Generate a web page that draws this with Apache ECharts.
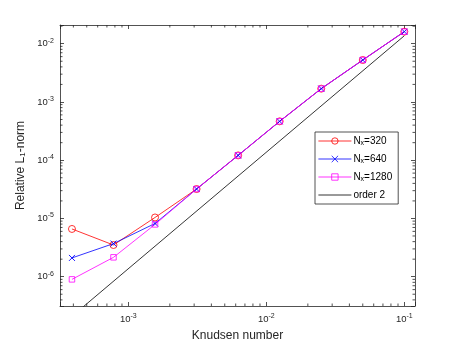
<!DOCTYPE html>
<html>
<head>
<meta charset="utf-8">
<script src="https://cdn.jsdelivr.net/npm/echarts@6/dist/echarts.min.js"></script>
<style>html,body{margin:0;padding:0;background:#fff;}#c{width:459px;height:344px;}</style>
</head>
<body>
<div id="c"></div>
<script>
// ---- data ----
const knudsen = [0.000390625, 0.00078125, 0.0015625, 0.003125, 0.00625, 0.0125, 0.025, 0.05, 0.1];
const nx320  = [6.6e-6, 3.5e-6, 1.04e-5, 3.2e-5, 1.21e-4, 4.65e-4, 1.69e-3, 5.25e-3, 1.61e-2];
const nx640  = [2.1e-6, 3.7e-6, 8.2e-6, 3.2e-5, 1.21e-4, 4.65e-4, 1.69e-3, 5.25e-3, 1.61e-2];
const nx1280 = [9.0e-7, 2.15e-6, 7.9e-6, 3.2e-5, 1.21e-4, 4.65e-4, 1.69e-3, 5.25e-3, 1.61e-2];
const order2X = [0.000390625, 0.1];
const order2Y = [2.09e-7, 1.37e-2];
const xTickLabels = [1e-3, 1e-2, 1e-1];
const yTickLabels = [1e-6, 1e-5, 1e-4, 1e-3, 1e-2];
const seriesNames = ['Nx=320', 'Nx=640', 'Nx=1280', 'order 2'];

const xMin = 3.2e-4, xMax = 0.1195;
const yMin = 3.14e-7, yMax = 0.02095;
const axisColor = '#262626';

const chart = echarts.init(document.getElementById('c'), null, {renderer: 'canvas'});

function powLabel(v) {
  const l = Math.log10(v);
  const e = Math.round(l);
  if (Math.abs(l - e) > 1e-6) return '';
  return '{b|10}{s|' + e + '}';
}
const tickRich = {
  b: {fontSize: 9.5, fontFamily: 'Liberation Sans', color: axisColor},
  s: {fontSize: 7, fontFamily: 'Liberation Sans', color: axisColor, padding: [0, 0, 6, 0]}
};

function pairs(xs, ys) { return xs.map((x, i) => [x, ys[i]]); }

const xCommon = {
  type: 'log', logBase: 10, min: xMin, max: xMax,
  axisLine: {show: true, onZero: false, lineStyle: {color: axisColor, width: 0.8}},
  axisTick: {show: true, inside: true, length: 4, lineStyle: {color: axisColor, width: 0.8}},
  splitLine: {show: false}
};
const yCommon = {
  type: 'log', logBase: 10, min: yMin, max: yMax,
  axisLine: {show: true, onZero: false, lineStyle: {color: axisColor, width: 0.8}},
  axisTick: {show: true, inside: true, length: 4, lineStyle: {color: axisColor, width: 0.8}},
  splitLine: {show: false}
};

const xSymbol = 'path://M0,0L10,10M10,0L0,10';
const clear = 'rgba(255,255,255,0)';

const option = {
  animation: false,
  backgroundColor: '#fff',
  grid: {left: 60, right: 44, top: 25, bottom: 38, containLabel: false, outerBoundsMode: 'none'},
  xAxis: [
    Object.assign({}, xCommon, {
      position: 'bottom',
      name: 'Knudsen number', nameLocation: 'middle', nameGap: 24,
      nameTextStyle: {fontSize: 12, fontFamily: 'Liberation Sans', color: axisColor},
      axisLabel: {show: true, margin: 7, formatter: powLabel, rich: tickRich}
    }),
    Object.assign({}, xCommon, {position: 'top', axisLabel: {show: false}})
  ],
  yAxis: [
    Object.assign({}, yCommon, {
      position: 'left',
      name: 'Relative L{sub|1}-norm', nameLocation: 'middle', nameGap: 33,
      nameTextStyle: {fontSize: 12, fontFamily: 'Liberation Sans', color: axisColor,
        rich: {sub: {fontSize: 8, fontFamily: 'Liberation Sans', color: axisColor, padding: [0, 0, -4, 0]}}},
      axisLabel: {show: true, margin: 6, formatter: powLabel, rich: tickRich}
    }),
    Object.assign({}, yCommon, {position: 'right', axisLabel: {show: false}})
  ],
  legend: {
    orient: 'vertical',
    left: 315, top: 132,
    padding: [4, 6, 4, 3],
    itemWidth: 33, itemHeight: 8, itemGap: 7,
    borderColor: axisColor, borderWidth: 0.8, backgroundColor: '#fff',
    lineStyle: {width: 0.8},
    itemStyle: {borderWidth: 0.8},
    data: [
      {name: seriesNames[0]},
      {name: seriesNames[1]},
      {name: seriesNames[2]},
      {name: seriesNames[3], itemStyle: {opacity: 0}}
    ],
    formatter: function (name) {
      if (name.indexOf('Nx=') === 0) return 'N{sub|x}' + name.slice(2);
      return name;
    },
    textStyle: {fontSize: 10, fontFamily: 'Liberation Sans', color: '#000', padding: [0, 0, 0, -3],
      rich: {sub: {fontSize: 7, fontFamily: 'Liberation Sans', color: '#000', padding: [0, 0, -5, 0]}}}
  },
  series: [
    {
      name: seriesNames[0], type: 'line', data: pairs(knudsen, nx320),
      symbol: 'circle', symbolSize: 7,
      lineStyle: {color: '#ff0000', width: 0.8},
      itemStyle: {color: clear, borderColor: '#ff0000', borderWidth: 0.8}
    },
    {
      name: seriesNames[1], type: 'line', data: pairs(knudsen, nx640),
      symbol: xSymbol, symbolSize: 6,
      lineStyle: {color: '#0000ff', width: 0.8},
      itemStyle: {color: '#0000ff', borderColor: '#0000ff', borderWidth: 0.9}
    },
    {
      name: seriesNames[2], type: 'line', data: pairs(knudsen, nx1280),
      symbol: 'rect', symbolSize: 5.5,
      lineStyle: {color: '#ff00ff', width: 0.8},
      itemStyle: {color: clear, borderColor: '#ff00ff', borderWidth: 0.8}
    },
    {
      name: seriesNames[3], type: 'line', data: pairs(order2X, order2Y),
      symbol: 'none', clip: true,
      lineStyle: {color: '#000000', width: 0.8},
      itemStyle: {color: '#000000'}
    }
  ]
};
chart.setOption(option);

// minor ticks (2..9 x 10^k) placed through the axes' own scales
function minorValues(lo, hi) {
  const out = [];
  for (let e = Math.floor(Math.log10(lo)) - 1; e <= Math.ceil(Math.log10(hi)); e++) {
    for (let k = 2; k <= 9; k++) {
      const v = k * Math.pow(10, e);
      if (v > lo && v < hi) out.push(v);
    }
  }
  return out;
}
const gridRect = {top: 25, bottom: 344 - 38, left: 60, right: 459 - 44};
const minorLen = 2.5;
const elems = [];
const st = {stroke: axisColor, lineWidth: 0.8};
minorValues(xMin, xMax).forEach(v => {
  const px = chart.convertToPixel({xAxisIndex: 0}, v);
  elems.push({type: 'line', silent: true, shape: {x1: px, y1: gridRect.bottom, x2: px, y2: gridRect.bottom - minorLen}, style: st});
  elems.push({type: 'line', silent: true, shape: {x1: px, y1: gridRect.top, x2: px, y2: gridRect.top + minorLen}, style: st});
});
minorValues(yMin, yMax).forEach(v => {
  const py = chart.convertToPixel({yAxisIndex: 0}, v);
  elems.push({type: 'line', silent: true, shape: {x1: gridRect.left, y1: py, x2: gridRect.left + minorLen, y2: py}, style: st});
  elems.push({type: 'line', silent: true, shape: {x1: gridRect.right, y1: py, x2: gridRect.right - minorLen, y2: py}, style: st});
});
chart.setOption({graphic: elems});
</script>
</body>
</html>
